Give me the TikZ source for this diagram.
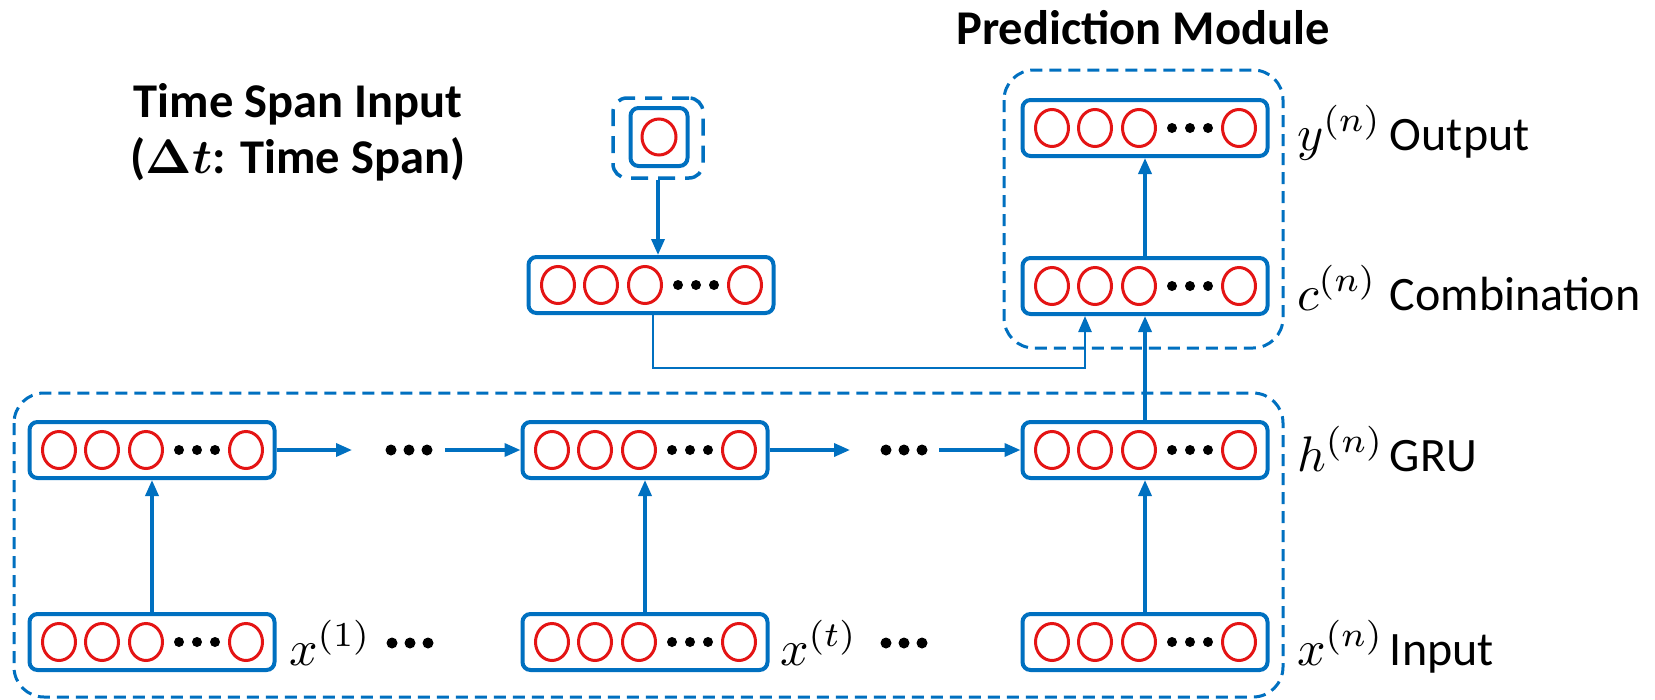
\documentclass[tikz,border=0pt]{standalone}
\usepackage{bm}
\usepackage{fontspec}
\setmainfont{Carlito}
\usetikzlibrary{arrows.meta,calc}
\definecolor{netblue}{RGB}{0,112,192}
\definecolor{netred}{RGB}{228,20,20}
\tikzset{
 layerbox/.style={draw=netblue, line width=4pt, rounded corners=8pt, minimum width=245pt, minimum height=56pt, inner sep=0pt},
 neuron/.style={draw=netred, line width=3pt},
 flow/.style={draw=netblue, line width=3.5pt, -{Triangle[length=16pt,width=13pt]}},
 thinflow/.style={draw=netblue, line width=2.5pt, -{Triangle[length=16pt,width=13pt]}},
 groupbox/.style={draw=netblue, line width=3pt, dash pattern=on 12pt off 7pt, rounded corners=30pt},
 smallgroup/.style={draw=netblue, line width=3.5pt, dash pattern=on 17pt off 10pt, rounded corners=14pt, minimum width=90pt, minimum height=80pt, inner sep=0pt},
 mlbl/.style={anchor=base west, inner sep=0pt, scale=5.0, font=\fontsize{10}{12}\selectfont},
 wlbl/.style={anchor=base west, inner sep=0pt, scale=4.8, font=\fontsize{10}{12}\selectfont},
 titletext/.style={anchor=base, inner sep=0pt, scale=4.85, font=\fontsize{10}{12}\selectfont\bfseries},
}
\newcommand\dotrow[2]{%
  \foreach \dd in {-18,0,18} \fill (#1+\dd,#2) circle[radius=5.5pt];}
\newcommand\layerrow[3]{%
  \node[layerbox] (#1) at (#2,#3) {};
  \foreach \dx in {-93,-50,-6,94} \draw[neuron] (#2+\dx,#3) ellipse [x radius=16.5pt, y radius=18.5pt];
  \foreach \dx in {27,45,63} \fill (#2+\dx,#3) circle[radius=5pt];}
\begin{document}
\begin{tikzpicture}[x=1pt,y=-1pt]
\useasboundingbox[fill=white] (0,0) rectangle (1655,699);

% group boxes
\draw[groupbox] (1004,70) rectangle (1283,348);
\draw[groupbox] (14,393) rectangle (1283,697);

% titles
\node[titletext] (tpm) at (1143,44) {Prediction Module};
\node[titletext, text depth=0pt] (tts1) at (298,117) {Time Span Input};
\node[titletext, text height=6pt] (tts2) at (298,173) {(\(\bm{\Delta t}\): Time Span)};

% time span input
\node[smallgroup] (tsg) at (658,138) {};
\node[draw=netblue, line width=4pt, rounded corners=8pt, minimum width=57pt, minimum height=58pt, inner sep=0pt] (tsin) at (659,137) {};
\draw[neuron] (659,137) ellipse [x radius=17pt, y radius=18pt];
\layerrow{ts}{651}{285}

% prediction module
\layerrow{out}{1145}{128}
\layerrow{comb}{1145}{286}

% GRU and input rows
\layerrow{g1}{152}{450}
\layerrow{g2}{645}{450}
\layerrow{g3}{1145}{450}
\layerrow{x1}{152}{642}
\layerrow{x2}{645}{642}
\layerrow{x3}{1145}{642}

% connectors
\draw[flow] (x1) -- (g1);
\draw[flow] (x2) -- (g2);
\draw[flow] (x3) -- (g3);
\draw[flow] (g3) -- (comb);
\draw[flow] (comb) -- (out);
\draw[flow] (tsg.south) -- (tsg.south |- ts.north);
\coordinate (j) at (1085,368);
\draw[thinflow] ([xshift=2pt]ts.south) |- (j) -- (j |- comb.south);

\coordinate (a1e) at (352,450);
\coordinate (a2s) at (445,450);
\coordinate (b1e) at (850,450);
\coordinate (b2s) at (939,450);
\draw[flow] (g1.east) -- (a1e);
\draw[flow] (a2s) -- (g2.west);
\draw[flow] (g2.east) -- (b1e);
\draw[flow] (b2s) -- (g3.west);
\dotrow{409}{450}
\dotrow{904}{450}
\dotrow{410}{643}
\dotrow{904}{643}

% labels
\node[mlbl] (lx1) at (288,665) {\(x^{(1)}\)};
\node[mlbl] (lxt) at (779,665) {\(x^{(t)}\)};
\node[mlbl] (ly) at (1296,150) {\(y^{(n)}\)};
\node[mlbl] (lc) at (1296,310) {\(c^{(n)}\)};
\node[mlbl] (lh) at (1296,471) {\(h^{(n)}\)};
\node[mlbl] (lx) at (1296,665) {\(x^{(n)}\)};
\node[wlbl] (wo) at (1389,150) {Output};
\node[wlbl] (wc) at (1389,310) {Combination};
\node[wlbl] (wg) at (1389,471) {GRU};
\node[wlbl] (wi) at (1389,665) {Input};
\end{tikzpicture}
\end{document}
